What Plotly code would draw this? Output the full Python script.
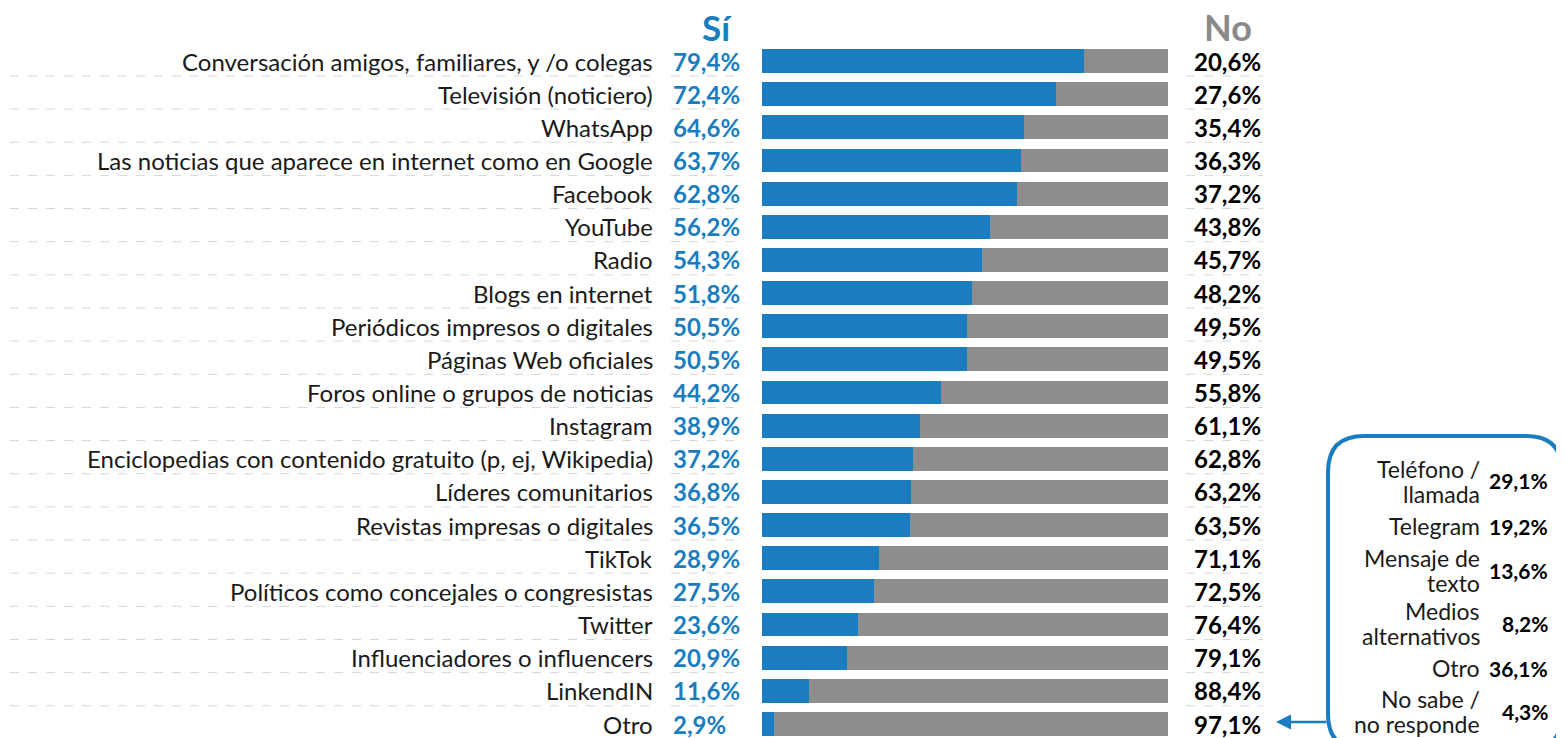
import plotly.graph_objects as go

W, H = 1564, 738
OFF = 8  # page body margin
FW, FH = W - OFF, H - OFF

categorias = [
    "Conversación amigos, familiares, y /o colegas",
    "Televisión (noticiero)",
    "WhatsApp",
    "Las noticias que aparece en internet como en Google",
    "Facebook",
    "YouTube",
    "Radio",
    "Blogs en internet",
    "Periódicos impresos o digitales",
    "Páginas Web oficiales",
    "Foros online o grupos de noticias",
    "Instagram",
    "Enciclopedias con contenido gratuito (p, ej, Wikipedia)",
    "Líderes comunitarios",
    "Revistas impresas o digitales",
    "TikTok",
    "Políticos como concejales o congresistas",
    "Twitter",
    "Influenciadores o influencers",
    "LinkendIN",
    "Otro",
]
si = [79.4, 72.4, 64.6, 63.7, 62.8, 56.2, 54.3, 51.8, 50.5, 50.5, 44.2,
      38.9, 37.2, 36.8, 36.5, 28.9, 27.5, 23.6, 20.9, 11.6, 2.9]
no = [20.6, 27.6, 35.4, 36.3, 37.2, 43.8, 45.7, 48.2, 49.5, 49.5, 55.8,
      61.1, 62.8, 63.2, 63.5, 71.1, 72.5, 76.4, 79.1, 88.4, 97.1]

otro_labels = ["Teléfono /<br>llamada", "Telegram", "Mensaje de<br>texto",
               "Medios<br>alternativos", "Otro", "No sabe /<br>no responde"]
otro_valores = [29.1, 19.2, 13.6, 8.2, 36.1, 4.3]

AZUL = "#197dc0"
GRIS = "#8d8d8d"
FONT = "Lato"


def px(x):
    return (x - OFF) / FW


def py(y):
    return 1 - (y - OFF) / FH


def pct(v):
    return f"{v:.1f}%".replace(".", ",")


# row 0 centre at 61 px, row 20 at 724 px (page pixels)
paso = (724 - 61) / 20
y_top = -(61 - OFF) / paso
y_bot = (H - 61) / paso

fig = go.Figure()
fig.add_trace(go.Bar(y=list(range(len(categorias))), x=si, orientation="h",
                     marker=dict(color=AZUL, line_width=0), width=0.72,
                     hoverinfo="skip"))
fig.add_trace(go.Bar(y=list(range(len(categorias))), x=no, orientation="h",
                     marker=dict(color=GRIS, line_width=0), width=0.72,
                     hoverinfo="skip"))

anns = []
shapes = []
for i, cat in enumerate(categorias):
    anns.append(dict(x=px(655), y=i, xref="paper", yref="y", text=cat,
                     xanchor="right", yanchor="middle", showarrow=False,
                     font=dict(family=FONT, size=24, color="#1a1a1a")))
    anns.append(dict(x=px(671), y=i, xref="paper", yref="y", text=f"<b>{pct(si[i])}</b>",
                     xanchor="left", yanchor="middle", showarrow=False,
                     font=dict(family=FONT, size=24, color=AZUL)))
    anns.append(dict(x=px(1263), y=i, xref="paper", yref="y", text=f"<b>{pct(no[i])}</b>",
                     xanchor="right", yanchor="middle", showarrow=False,
                     font=dict(family=FONT, size=24, color="#000000")))
    for x0, x1 in [(10, 656), (671, 741), (1186, 1263)]:
        shapes.append(dict(type="line", xref="paper", yref="y",
                           x0=px(x0), x1=px(x1), y0=i + 0.45, y1=i + 0.45,
                           line=dict(color="#d6d6d6", width=1, dash="dash")))

anns.append(dict(x=px(717), y=py(27), xref="paper", yref="paper", text="<b>Sí</b>",
                 showarrow=False, xanchor="center", yanchor="middle",
                 font=dict(family=FONT, size=35, color=AZUL)))
anns.append(dict(x=px(1228), y=py(27), xref="paper", yref="paper", text="<b>No</b>",
                 showarrow=False, xanchor="center", yanchor="middle",
                 font=dict(family=FONT, size=36, color="#8a8a8a")))

# side box for "Otro"
box_y = [481, 526, 570, 623, 668, 711]
for lab, val, yy in zip(otro_labels, otro_valores, box_y):
    lineas = lab.split("<br>")
    for k, linea in enumerate(lineas):
        yl = yy + (k - (len(lineas) - 1) / 2) * 25
        anns.append(dict(x=px(1482), y=py(yl), xref="paper", yref="paper", text=linea,
                         showarrow=False, xanchor="right", yanchor="middle",
                         font=dict(family=FONT, size=23, color="#1a1a1a")))
    anns.append(dict(x=px(1550), y=py(yy), xref="paper", yref="paper", text=f"<b>{pct(val)}</b>",
                     showarrow=False, xanchor="right", yanchor="middle",
                     font=dict(family=FONT, size=21, color="#000000")))

x0b, x1b, y0b, y1b, r = 1328, 1562, 436, 750, 36
rx, ry = r / FW, r / FH
X0, X1, Y0, Y1 = px(x0b), px(x1b), py(y0b), py(y1b)
path = (f"M {X0+rx},{Y0} L {X1-rx},{Y0} Q {X1},{Y0} {X1},{Y0-ry} "
        f"L {X1},{Y1+ry} Q {X1},{Y1} {X1-rx},{Y1} L {X0+rx},{Y1} "
        f"Q {X0},{Y1} {X0},{Y1+ry} L {X0},{Y0-ry} Q {X0},{Y0} {X0+rx},{Y0} Z")
shapes.append(dict(type="path", xref="paper", yref="paper", path=path,
                   line=dict(color=AZUL, width=4)))

anns.append(dict(x=px(1276), y=py(722), ax=52, ay=0,
                 xref="paper", yref="paper", axref="pixel", ayref="pixel",
                 text="", showarrow=True, arrowhead=2, arrowsize=1.2,
                 arrowwidth=2.5, arrowcolor=AZUL))

fig.update_layout(
    width=FW, height=FH, margin=dict(l=0, r=0, t=0, b=0),
    barmode="stack", showlegend=False, bargap=0,
    paper_bgcolor="white", plot_bgcolor="white",
    xaxis=dict(domain=[px(762), px(1168)], range=[0, 100], visible=False, fixedrange=True),
    yaxis=dict(range=[y_bot, y_top], visible=False, fixedrange=True),
    annotations=anns, shapes=shapes,
)

fig.write_html("out.html")
